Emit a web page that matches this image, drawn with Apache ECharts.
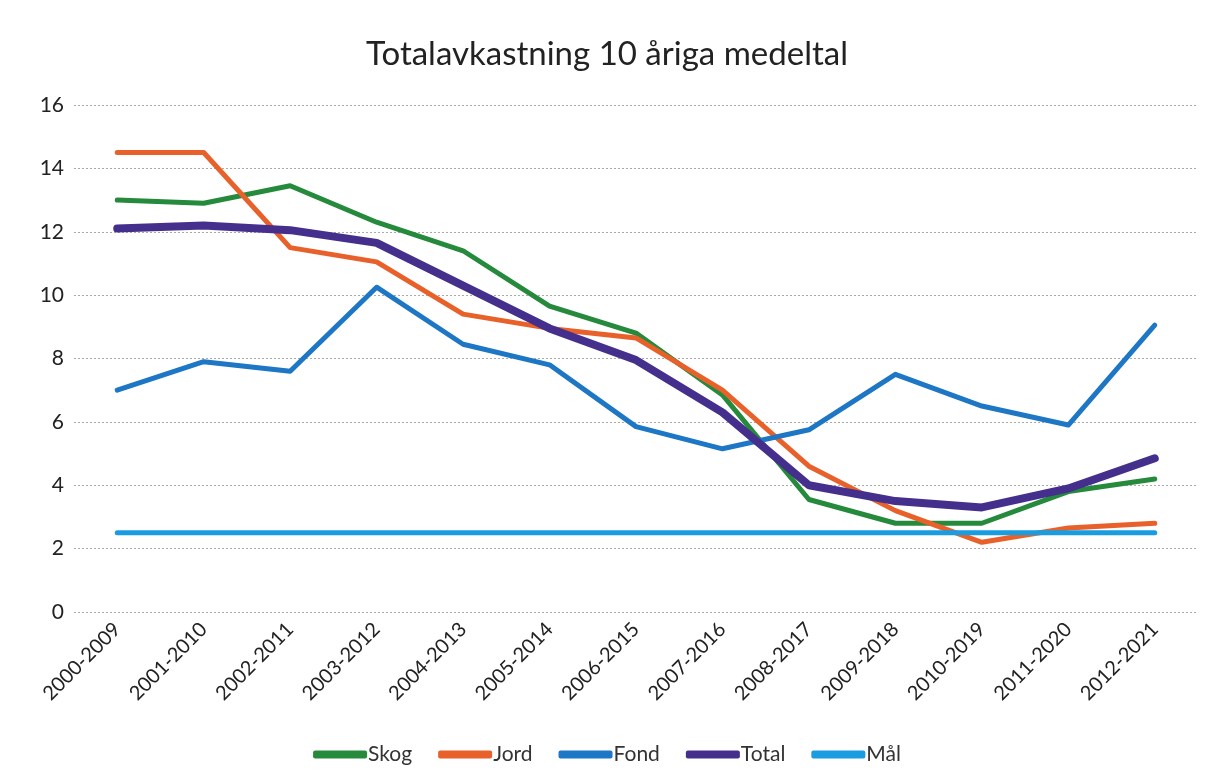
<!DOCTYPE html>
<html>
<head>
<meta charset="utf-8">
<script src="https://cdn.jsdelivr.net/npm/echarts@6/dist/echarts.min.js"></script>
<style>
  html, body { margin: 0; padding: 0; background: #fff; }
  #chart { width: 1214px; height: 784px; }
</style>
</head>
<body>
<div id="chart"></div>
<script>
let perioder = ['2000-2009', '2001-2010', '2002-2011', '2003-2012', '2004-2013', '2005-2014', '2006-2015',
    '2007-2016', '2008-2017', '2009-2018', '2010-2019', '2011-2020', '2012-2021'];
let skog  = [13.0, 12.9, 13.45, 12.3, 11.4, 9.65, 8.8, 6.85, 3.55, 2.8, 2.8, 3.8, 4.2];
let jord  = [14.5, 14.5, 11.5, 11.05, 9.4, 8.95, 8.65, 7.0, 4.6, 3.2, 2.2, 2.65, 2.8];
let fond  = [7.0, 7.9, 7.6, 10.25, 8.45, 7.8, 5.85, 5.15, 5.75, 7.5, 6.5, 5.9, 9.05];
let total = [12.1, 12.2, 12.05, 11.65, 10.3, 8.95, 7.95, 6.3, 4.0, 3.5, 3.3, 3.9, 4.85];
let mal   = [2.5, 2.5, 2.5, 2.5, 2.5, 2.5, 2.5, 2.5, 2.5, 2.5, 2.5, 2.5, 2.5];

let font = 'Lato, "Open Sans", sans-serif';

function linje(namn, data, farg, bredd) {
    return {
        name: namn,
        type: 'line',
        data: data,
        symbol: 'none',
        smooth: false,
        lineStyle: { color: farg, width: bredd, cap: 'round', join: 'round' },
        itemStyle: { color: farg }
    };
}

let option = {
    backgroundColor: '#fff',
    animation: false,
    textStyle: { fontFamily: font },
    title: {
        text: 'Totalavkastning 10 åriga medeltal',
        left: 'center',
        top: 33,
        textStyle: { fontFamily: font, fontSize: 33, fontWeight: 'normal', color: '#222' }
    },
    grid: { left: 74, right: 16, top: 105, bottom: 172 },
    legend: {
        bottom: 14,
        left: 'center',
        itemWidth: 54,
        itemHeight: 8,
        itemGap: 26,
        icon: 'roundRect',
        textStyle: { fontFamily: font, fontSize: 21, color: '#333', padding: [0, 0, 0, -4] },
        data: ['Skog', 'Jord', 'Fond', 'Total', 'Mål']
    },
    xAxis: {
        type: 'category',
        data: perioder,
        boundaryGap: true,
        axisLine: { show: false },
        axisTick: { show: false },
        axisLabel: { rotate: 45, fontSize: 20, color: '#222', margin: 14, interval: 0 }
    },
    yAxis: {
        type: 'value',
        min: 0,
        max: 16,
        interval: 2,
        axisLine: { show: false },
        axisTick: { show: false },
        axisLabel: { fontSize: 21, color: '#222', margin: 10 },
        splitLine: { lineStyle: { color: '#aaa', type: [2, 2], width: 1 } }
    },
    series: [
        linje('Skog', skog, '#268a3c', 5),
        linje('Jord', jord, '#e8602a', 5),
        linje('Fond', fond, '#1d77c4', 5),
        linje('Total', total, '#452f8c', 8),
        linje('Mål', mal, '#1a9ce0', 5)
    ]
};

let myChart = echarts.init(document.getElementById('chart'));
myChart.setOption(option);
</script>
</body>
</html>
